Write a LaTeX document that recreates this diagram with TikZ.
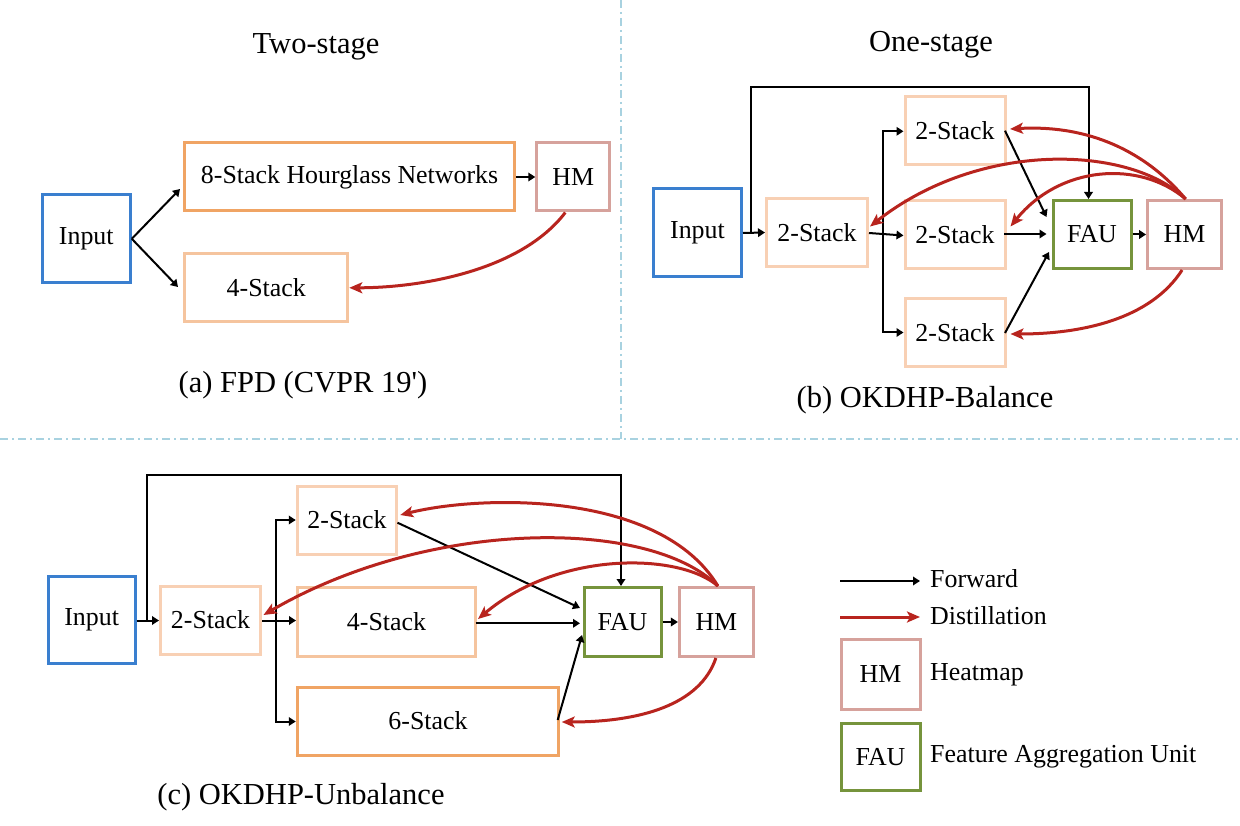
\documentclass[tikz,border=0pt]{standalone}
\usepackage{fontspec}
\setmainfont{Liberation Serif}[Ligatures=TeXOff]
\usetikzlibrary{arrows.meta}
\definecolor{cblue}{HTML}{3A7FCF}
\definecolor{corD}{HTML}{F0A464}
\definecolor{corL}{HTML}{F8D0B4}
\definecolor{corM}{HTML}{F5C49E}
\definecolor{chm}{HTML}{D6A29C}
\definecolor{cfau}{HTML}{76943C}
\definecolor{cred}{HTML}{B8241E}
\definecolor{cdiv}{HTML}{A8D2E0}
\tikzset{
  box/.style={draw=#1, line width=3pt, inner sep=0pt, fill=white,
    font=\fontsize{25.9}{30}\selectfont},
  fwd/.style={draw=black, line width=2pt, -{Triangle[length=7pt,width=8.5pt]}},
  dist/.style={draw=cred, line width=3pt, -{Stealth[length=13pt,width=11pt,inset=3pt]}},
  ttl/.style={font=\fontsize{30.5}{36}\selectfont, inner sep=0pt},
  lbl/.style={font=\fontsize{25.9}{30}\selectfont, inner sep=0pt, anchor=west},
  divider/.style={draw=cdiv, line width=2pt, dash pattern=on 8pt off 4pt on 2pt off 4pt},
}
\begin{document}
\begin{tikzpicture}[x=1pt,y=-1pt]
\useasboundingbox (0,0) rectangle (1240,826);
% dividers
\draw[divider] (621,0) -- (621,439);
\draw[divider] (0,439) -- (1240,439);

% ---------------- panel (a)
\node[ttl] (attl) at (316,47) {Two-stage};
\node[box=cblue, minimum width=88, minimum height=88] (ain) at (86.3,238.8) {Input};
\node[box=corD, minimum width=330, minimum height=68] (a8) at (349.6,177) {8-Stack Hourglass Networks};
\node[box=chm, minimum width=73, minimum height=68] (ahm) at (573.3,177) {HM};
\node[box=corM, minimum width=163, minimum height=68] (a4) at (266.3,287.8) {4-Stack};
\coordinate (au) at (180,189);
\coordinate (ad) at (178,287);
\draw[fwd] (ain.east) -- (au);
\draw[fwd] (ain.east) -- (ad);
\draw[fwd] (a8.east) -- (ahm.west);
\draw[dist] ([xshift=-8pt]ahm.south) .. controls +(-45,59) and +(70,0) .. (a4.east);
\node[ttl] (acap) at (303,385) {(a) FPD (CVPR 19')};

% ---------------- panel (b)
\node[ttl] (bttl) at (931,45) {One-stage};
\node[box=cblue, minimum width=88, minimum height=88] (bin) at (697.5,233) {Input};
\node[box=corL, minimum width=101, minimum height=68] (bs0) at (817,232.5) {2-Stack};
\node[box=corL, minimum width=100, minimum height=68] (bt) at (955,131) {2-Stack};
\node[box=corL, minimum width=100, minimum height=68] (bm) at (955,234.5) {2-Stack};
\node[box=corL, minimum width=100, minimum height=68] (bb) at (955,332.5) {2-Stack};
\node[box=cfau, minimum width=78, minimum height=68] (bfau) at (1092,234.5) {FAU};
\node[box=chm, minimum width=74, minimum height=68] (bhm) at (1184.6,234.5) {HM};
\coordinate (bby) at (750.5,233);
\coordinate (bbt) at (750.5,87.5);
\coordinate (bbr) at (883,233);
\coordinate (bft) at (1046.5,217);
\coordinate (bfm) at (1046.5,234);
\coordinate (bfb) at (1049,252);
\draw[fwd] (bin.east) -- (bs0.west);
\draw[fwd] (bby) -- (bbt) -| ([xshift=-3.5pt]bfau.north);
\draw[fwd] (bs0.east |- bbr) -- ([yshift=-1pt]bm.west);
\draw[fwd] (bbr) |- ([yshift=-0.3pt]bt.west);
\draw[fwd] (bbr) |- (bb.west);
\draw[fwd] (1005,130.7) -- (bft);
\draw[fwd] (1004,234) -- (bfm);
\draw[fwd] (1005,333) -- (bfb);
\draw[fwd] (bfau.east) -- (bhm.west);
\draw[dist] ([xshift=1pt]bhm.north) .. controls (1140,145) and (1080,125) .. ([xshift=3.5pt,yshift=2pt]bt.east);
\draw[dist] ([xshift=1pt]bhm.north) .. controls (1130,145) and (980,140) .. ([xshift=1pt,yshift=6pt]bs0.east);
\draw[dist] ([xshift=1pt]bhm.north) .. controls (1140,160) and (1060,165) .. ([xshift=4pt,yshift=8pt]bm.east);
\draw[dist] ([xshift=-2.5pt]bhm.south) .. controls (1150,320) and (1080,334) .. ([xshift=4pt,yshift=-1.5pt]bb.east);
\node[ttl] (bcap) at (925,400) {(b) OKDHP-Balance};

% ---------------- panel (c)
\node[box=cblue, minimum width=87, minimum height=87] (cin) at (91.7,620) {Input};
\node[box=corL, minimum width=100, minimum height=68] (cs0) at (210.5,620) {2-Stack};
\node[box=corL, minimum width=99.5, minimum height=68] (ct) at (347,520) {2-Stack};
\node[box=corM, minimum width=178, minimum height=69] (c4) at (386.5,622) {4-Stack};
\node[box=corD, minimum width=261.5, minimum height=68] (c6) at (428,721) {6-Stack};
\node[box=cfau, minimum width=77, minimum height=69] (cfau) at (622.5,622) {FAU};
\node[box=chm, minimum width=74, minimum height=69] (chm) at (716.4,622) {HM};
\coordinate (cby) at (147,620.5);
\coordinate (cbt) at (147,475);
\coordinate (cbr) at (276,620.5);
\coordinate (cft) at (580,608);
\coordinate (cfm) at (580,623.3);
\coordinate (cfb) at (582,635);
\draw[fwd] (cin.east |- cby) -- (cs0.west |- cby);
\draw[fwd] (cby) -- (cbt) -| ([xshift=-1.5pt]cfau.north);
\draw[fwd] (cs0.east |- cbr) -- (c4.west |- cbr);
\draw[fwd] (cbr) |- (ct.west);
\draw[fwd] (cbr) |- ([yshift=-0.5pt]c6.west);
\draw[fwd] (397.5,522.7) -- (cft);
\draw[fwd] (475.6,623.3) -- (cfm);
\draw[fwd] (557.7,720) -- (cfb);
\draw[fwd] (cfau.east) -- (chm.west);
\draw[dist] ([xshift=1.5pt]chm.north) .. controls (660,490) and (480,495) .. ([xshift=2pt,yshift=5pt]ct.east);
\draw[dist] ([xshift=1.5pt]chm.north) .. controls (650,518) and (430,518) .. ([xshift=1.5pt,yshift=5pt]cs0.east);
\draw[dist] ([xshift=1.5pt]chm.north) .. controls (680,553) and (560,550) .. ([xshift=1pt,yshift=3pt]c4.east);
\draw[dist] ([xshift=-0.5pt]chm.south) .. controls (700,705) and (640,722) .. ([xshift=1.5pt,yshift=-1pt]c6.east);
\node[ttl] (ccap) at (301,797) {(c) OKDHP-Unbalance};

% ---------------- legend
\coordinate (lf0) at (840,581);
\coordinate (lf1) at (920,581);
\coordinate (ld0) at (840,617);
\coordinate (ld1) at (920,617);
\draw[fwd] (lf0) -- (lf1);
\draw[dist] (ld0) -- (ld1);
\node[lbl] (lft) at (930,579) {Forward};
\node[lbl] (ldt) at (930,616) {Distillation};
\node[box=chm, minimum width=79, minimum height=70] (lhm) at (880.5,674.5) {HM};
\node[lbl] (lhmt) at (930,675) {Heatmap};
\node[box=cfau, minimum width=79, minimum height=67] (lfau) at (880.5,757) {FAU};
\node[lbl] (lfaut) at (930,757) {Feature Aggregation Unit};
\end{tikzpicture}
\end{document}
